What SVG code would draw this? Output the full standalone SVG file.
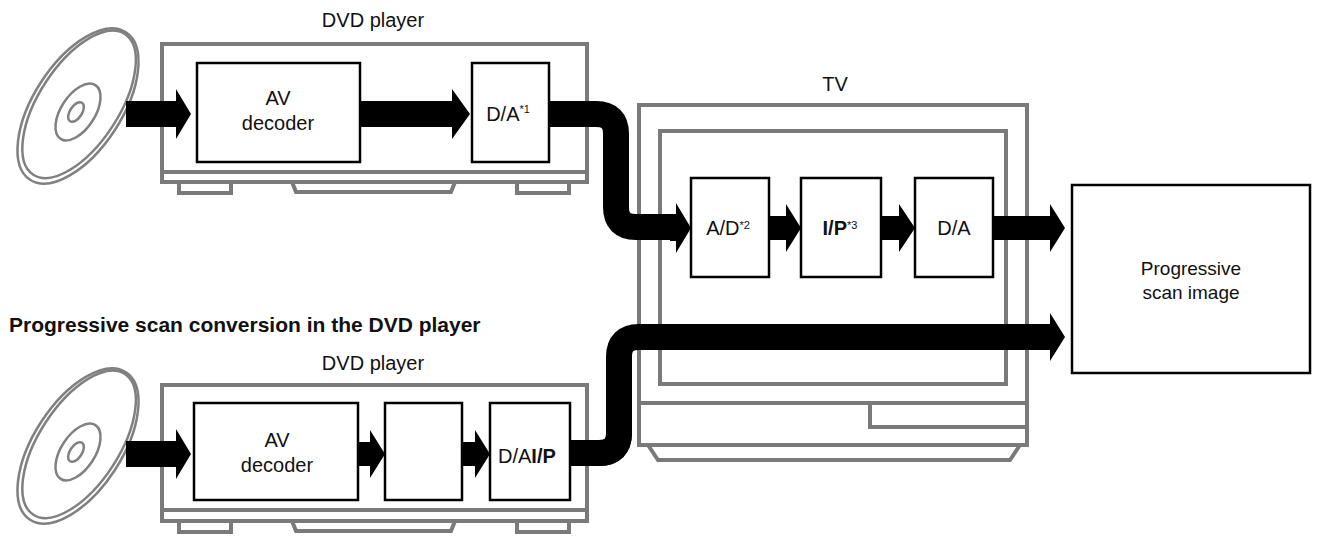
<svg xmlns="http://www.w3.org/2000/svg" width="1318" height="539" viewBox="0 0 1318 539">
<style>
.h{fill:none;stroke:#7a7a7a;stroke-width:4}
.b{fill:#fff;stroke:#000;stroke-width:2.5}
.t{font-family:"Liberation Sans",Arial,sans-serif;fill:#111;text-anchor:middle}
.a{fill:#000}
.c{fill:none;stroke:#000;stroke-width:26;stroke-linejoin:round}
.d{fill:none;stroke:#808080;stroke-width:2.5}
</style>
<rect width="1318" height="539" fill="#fff"/>
<g id="disc1">
<ellipse class="d" cx="78" cy="106" rx="88" ry="44" transform="rotate(-57 78 106)"/>
<ellipse class="d" cx="80" cy="106" rx="84" ry="40" transform="rotate(-57 78 106)"/>
<ellipse class="d" cx="78" cy="112" rx="32" ry="17" transform="rotate(-57 78 112)"/>
<ellipse class="d" cx="76" cy="112" rx="11" ry="6" transform="rotate(-57 76 112)"/>
</g>
<g id="disc2">
<ellipse class="d" cx="78" cy="446" rx="88" ry="44" transform="rotate(-57 78 446)"/>
<ellipse class="d" cx="80" cy="446" rx="84" ry="40" transform="rotate(-57 78 446)"/>
<ellipse class="d" cx="78" cy="452" rx="32" ry="17" transform="rotate(-57 78 452)"/>
<ellipse class="d" cx="76" cy="452" rx="11" ry="6" transform="rotate(-57 76 452)"/>
</g>
<g id="dvd1">
<text class="t" x="373" y="27" font-size="20">DVD player</text>
<rect class="h" x="162" y="44" width="425" height="138" fill="#fff"/>
<line class="h" x1="162" y1="172" x2="587" y2="172"/>
<path class="h" d="M179 182V193H231V182M292 182L296 192H451L455 182M517 182V193H569V182"/>
</g>
<g id="dvd2">
<text class="t" x="373" y="370" font-size="20">DVD player</text>
<rect class="h" x="162" y="385" width="425" height="136" fill="#fff"/>
<line class="h" x1="162" y1="510" x2="587" y2="510"/>
<path class="h" d="M179 521V532H231V521M292 521L296 531H451L455 521M517 521V532H569V521"/>
</g>
<g id="tv">
<text class="t" x="835" y="91" font-size="20">TV</text>
<rect class="h" x="639" y="105" width="388" height="340" fill="#fff"/>
<rect class="h" x="660" y="131" width="346" height="253"/>
<line class="h" x1="639" y1="403" x2="1027" y2="403"/>
<path class="h" d="M870 403V427H1027"/>
<path class="h" d="M648 445L658 460H1010L1020 445"/>
</g>
<g id="connectors">
<path class="a" d="M126 101H176V89L191 114L176 139V127H126Z"/>
<path class="a" d="M360 101H452V89L470 114L452 139V127H360Z"/>
<path class="c" d="M549 114H596Q616 114 616 134V207Q616 227 636 227H678"/>
<path class="a" d="M670 215H676V203L691 228L676 253V241H670Z"/>
<path class="a" d="M769 216H786V204L801 228L786 252V240H769Z"/>
<path class="a" d="M881 216H899V204L915 228L899 252V240H881Z"/>
<path class="a" d="M993 216H1050V204L1065 228L1050 252V240H993Z"/>
<path class="a" d="M126 441H176V429L191 454L176 479V467H126Z"/>
<path class="a" d="M358 442H370V430L385 454L370 478V466H358Z"/>
<path class="a" d="M462 442H475V430L490 454L475 478V466H462Z"/>
<path class="c" d="M566 453H599Q619 453 619 433V357Q619 337 639 337H1052"/>
<path class="a" d="M1040 325H1050V313L1065 337L1050 361V349H1040Z"/>
</g>
<g id="av1"><rect class="b" x="197" y="63" width="163" height="99"/>
<text class="t" x="278" y="105" font-size="20">AV</text><text class="t" x="278" y="130" font-size="20">decoder</text></g>
<g id="da1"><rect class="b" x="472" y="63" width="77" height="99"/>
<text class="t" x="508" y="121" font-size="20">D/A<tspan font-size="11" dy="-8">*1</tspan></text></g>
<g id="ad"><rect class="b" x="691" y="178" width="78" height="99"/>
<text class="t" x="728" y="235" font-size="20">A/D<tspan font-size="11" dy="-6">*2</tspan></text></g>
<g id="ip"><rect class="b" x="801" y="178" width="80" height="99"/>
<text class="t" x="840" y="235" font-size="20" font-weight="bold">I/P<tspan font-size="11" font-weight="normal" dy="-6">*3</tspan></text></g>
<g id="da2"><rect class="b" x="915" y="178" width="78" height="99"/>
<text class="t" x="954" y="235" font-size="20">D/A</text></g>
<g id="prog"><rect class="b" x="1072" y="185" width="238" height="188"/>
<text class="t" x="1191" y="275" font-size="19">Progressive</text><text class="t" x="1191" y="299" font-size="19">scan image</text></g>
<text x="9" y="332" font-family="Liberation Sans,Arial,sans-serif" font-weight="bold" font-size="21" fill="#111">Progressive scan conversion in the DVD player</text>
<g id="av2"><rect class="b" x="194" y="403" width="164" height="97"/>
<text class="t" x="277" y="447" font-size="20">AV</text><text class="t" x="277" y="472" font-size="20">decoder</text></g>
<g id="mid"><rect class="b" x="385" y="403" width="77" height="97"/></g>
<g id="da3"><rect class="b" x="490" y="403" width="80" height="97"/>
<text x="498" y="463" font-family="Liberation Sans,Arial,sans-serif" font-size="20" fill="#111">D/A<tspan font-weight="bold">I/P</tspan></text></g>
<path class="c" d="M570 453H599Q619 453 619 433V400"/>
</svg>
